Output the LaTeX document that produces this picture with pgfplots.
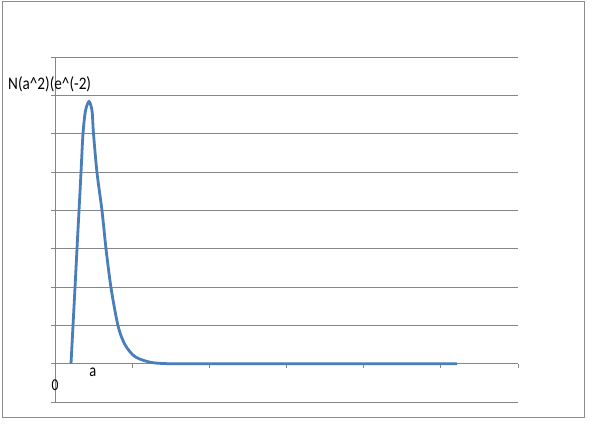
\documentclass[border=0pt]{standalone}
\usepackage{pgfplots}
\pgfplotsset{compat=1.18}
\usepackage{fontspec}
\setmainfont{Carlito}
\definecolor{gridgray}{RGB}{134,134,134}
\definecolor{framegray}{RGB}{140,140,140}
\definecolor{curveblue}{RGB}{74,126,187}
\begin{document}
\begin{tikzpicture}
\path[use as bounding box] (0pt,0pt) rectangle (604pt,433pt);
\draw[framegray, line width=0.9pt] (2pt,16pt) rectangle (584pt,432pt);
\begin{axis}[
  at={(55pt,31pt)}, anchor=south west,
  scale only axis, width=463pt, height=345pt,
  xmin=0, xmax=6, ymin=-1, ymax=8,
  axis x line=middle, axis y line=left,
  axis line style={-, gridgray, line width=0.8pt},
  xtick={1,2,3,4,5,6}, ytick={-1,0,1,2,3,4,5,6,7,8},
  xticklabels={}, yticklabels={},
  tick align=outside, major tick length=4pt,
  tick style={gridgray, line width=0.8pt},
  ymajorgrids, grid style={gridgray, line width=0.8pt},
  clip=false,
]
\addplot[curveblue, line width=2.8pt, smooth, tension=0.5] coordinates {
(0.2073,0) (0.2333,0.991) (0.2592,1.983) (0.2851,3.0) (0.3110,3.991)
(0.3369,4.983) (0.3629,6.0) (0.3953,6.600) (0.4406,6.835)
(0.4795,6.600) (0.4989,6.0) (0.5443,4.983) (0.6091,3.991)
(0.6609,3.0) (0.7257,1.983) (0.8164,0.991) (0.9071,0.496) (1.0367,0.183)
(1.2311,0.039) (1.4514,0) (1.8790,0) (5.2095,0)
};
\node[font=\fontsize{16}{16}\selectfont, inner sep=0pt] at (axis cs:0.49,-0.22) {\scalebox{0.9}[1.1]{a}};
\node[font=\fontsize{15}{15}\selectfont, inner sep=0pt] at (axis cs:0,-0.55) {\scalebox{0.9}[1.1]{0}};
\end{axis}
\node[anchor=west, inner sep=0pt, font=\fontsize{16}{16}\selectfont] at (8pt,349pt) {\scalebox{0.95}[1.1]{N(a\^{}2)(e\^{}(-2)}};
\end{tikzpicture}
\end{document}
